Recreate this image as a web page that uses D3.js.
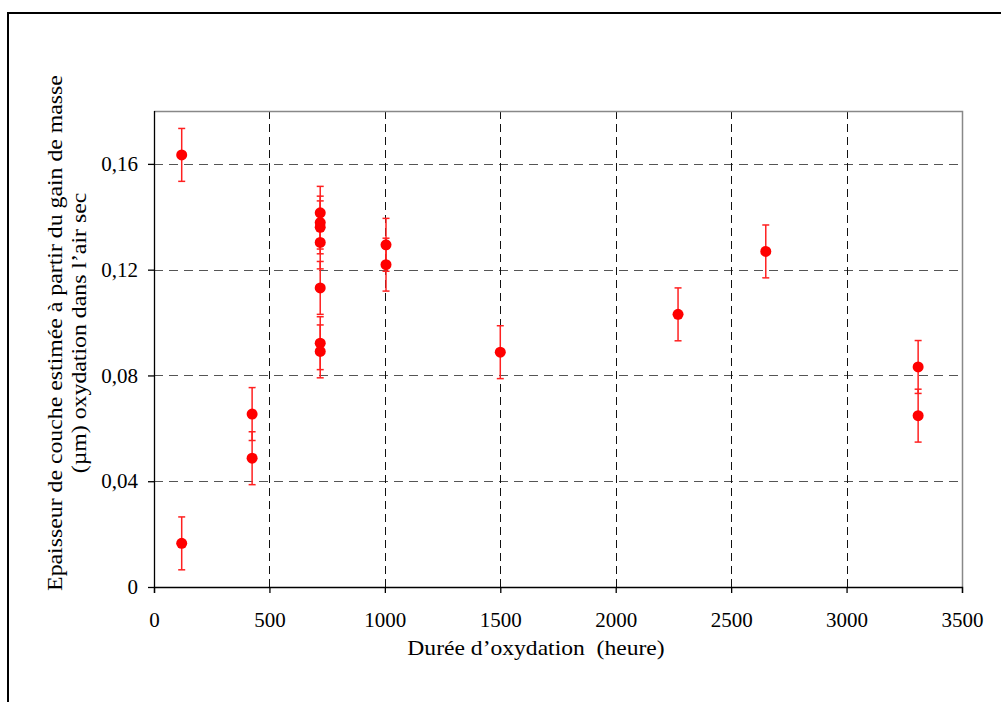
<!DOCTYPE html>
<html>
<head>
<meta charset="utf-8">
<script src="https://cdn.jsdelivr.net/npm/d3@7"></script>
<style>
  body { margin: 0; background: #fff; }
  svg text { font-family: "Liberation Serif", "Times New Roman", "DejaVu Serif", serif; }
</style>
</head>
<body>
<div id="app"></div>
<script>
// durée d'oxydation (heure) et épaisseur estimée (µm)
const hours = [120, 120, 425, 425, 720, 720, 720, 720, 720, 720, 720, 1005, 1005, 1500, 2270, 2650, 3310, 3310];
const thickness = [0.1634, 0.0165, 0.0654, 0.0487, 0.1415, 0.1378, 0.1360, 0.1303, 0.1131, 0.0922, 0.0891, 0.1294, 0.1219, 0.0888, 0.1031, 0.1269, 0.0832, 0.0648];
const errors = [0.01, 0.01, 0.01, 0.01, 0.01, 0.01, 0.01, 0.01, 0.01, 0.01, 0.01, 0.01, 0.01, 0.01, 0.01, 0.01, 0.01, 0.01];
const xTicks = [0, 500, 1000, 1500, 2000, 2500, 3000, 3500];
const yTicks = [0, 0.04, 0.08, 0.12, 0.16];
const yTickLabels = ["0", "0,04", "0,08", "0,12", "0,16"];

const width = 1001, height = 702;
const mLeft = 154, mRight = 962, mTop = 111, mBottom = 587;

const svg = d3.select('#app').append('svg').attr('width', width).attr('height', height);

// cadre extérieur
svg.append('rect')
    .attr('x', 8).attr('y', 13).attr('width', 1010).attr('height', 720)
    .attr('fill', 'none').attr('stroke', 'black').attr('stroke-width', 2);

const x = d3.scaleLinear().domain([0, 3500]).range([mLeft, mRight]);
const y = d3.scaleLinear().domain([0, 0.18]).range([mBottom, mTop]);

const points = hours.map((h, i) => ({ h: h, v: thickness[i], e: errors[i] }));

// grille
svg.append('g').selectAll('line').data(yTicks.slice(1))
    .enter().append('line')
    .attr('x1', mLeft).attr('x2', mRight)
    .attr('y1', d => Math.round(y(d)) + 0.5).attr('y2', d => Math.round(y(d)) + 0.5)
    .attr('stroke', '#555').attr('stroke-width', 1).attr('stroke-dasharray', '9,6');

svg.append('g').selectAll('line').data(xTicks.slice(1, -1))
    .enter().append('line')
    .attr('x1', d => Math.round(x(d)) + 0.5).attr('x2', d => Math.round(x(d)) + 0.5)
    .attr('y1', mTop).attr('y2', mBottom)
    .attr('stroke', '#111').attr('stroke-width', 1).attr('stroke-dasharray', '8,5');

// bord gris haut et droit
svg.append('path')
    .attr('d', `M${mLeft},${mTop + 0.5} H${mRight + 0.5} V${mBottom}`)
    .attr('fill', 'none').attr('stroke', '#888').attr('stroke-width', 1.5);

// axes
const xAxis = d3.axisBottom(x).tickValues(xTicks).tickSize(6).tickFormat(d3.format('d'));
const yAxis = d3.axisLeft(y).tickValues(yTicks).tickSize(6).tickPadding(10)
    .tickFormat((d, i) => yTickLabels[i]);

const gx = svg.append('g').attr('transform', `translate(0,${mBottom})`).call(xAxis);
const gy = svg.append('g').attr('transform', `translate(${mLeft},0)`).call(yAxis);
gy.select('.domain').attr('d', `M0.5,${mTop}V${mBottom}`);
[gx, gy].forEach(g => {
    g.attr('font-family', null);
    g.selectAll('text').attr('font-size', 21).attr('fill', 'black');
    g.selectAll('line, path').attr('stroke', 'black').attr('stroke-width', 1.3);
});
gx.selectAll('text').attr('y', 40).attr('dy', 0);
gy.selectAll('text').attr('x', -16);

// barres d'erreur
const eb = svg.append('g').attr('stroke', '#ff2020').attr('stroke-width', 1.5);
eb.selectAll('.v').data(points).enter().append('line')
    .attr('x1', d => x(d.h)).attr('x2', d => x(d.h))
    .attr('y1', d => y(d.v + d.e)).attr('y2', d => y(d.v - d.e));
eb.selectAll('.t').data(points).enter().append('line')
    .attr('x1', d => x(d.h) - 3.5).attr('x2', d => x(d.h) + 3.5)
    .attr('y1', d => y(d.v + d.e)).attr('y2', d => y(d.v + d.e));
eb.selectAll('.b').data(points).enter().append('line')
    .attr('x1', d => x(d.h) - 3.5).attr('x2', d => x(d.h) + 3.5)
    .attr('y1', d => y(d.v - d.e)).attr('y2', d => y(d.v - d.e));

// points
svg.append('g').selectAll('circle').data(points)
    .enter().append('circle')
    .attr('cx', d => x(d.h)).attr('cy', d => y(d.v))
    .attr('r', 5.5).attr('fill', '#ff0000');

// titres
svg.append('text')
    .attr('transform', `translate(${(mLeft + mRight) / 2 - 22},655) scale(1.18,1)`)
    .attr('text-anchor', 'middle').attr('font-size', 20)
    .attr('xml:space', 'preserve')
    .text('Durée d\u2019oxydation  (heure)');

const yt = svg.append('text')
    .attr('transform', `translate(62,333) rotate(-90) scale(1.19,1)`)
    .attr('text-anchor', 'middle').attr('font-size', 20);
yt.append('tspan').attr('x', 0).attr('y', 0)
    .text('Epaisseur de couche estimée à partir du gain de masse');
yt.append('tspan').attr('x', 0).attr('y', 24)
    .text('(µm) oxydation dans l\u2019air sec');
</script>
</body>
</html>
